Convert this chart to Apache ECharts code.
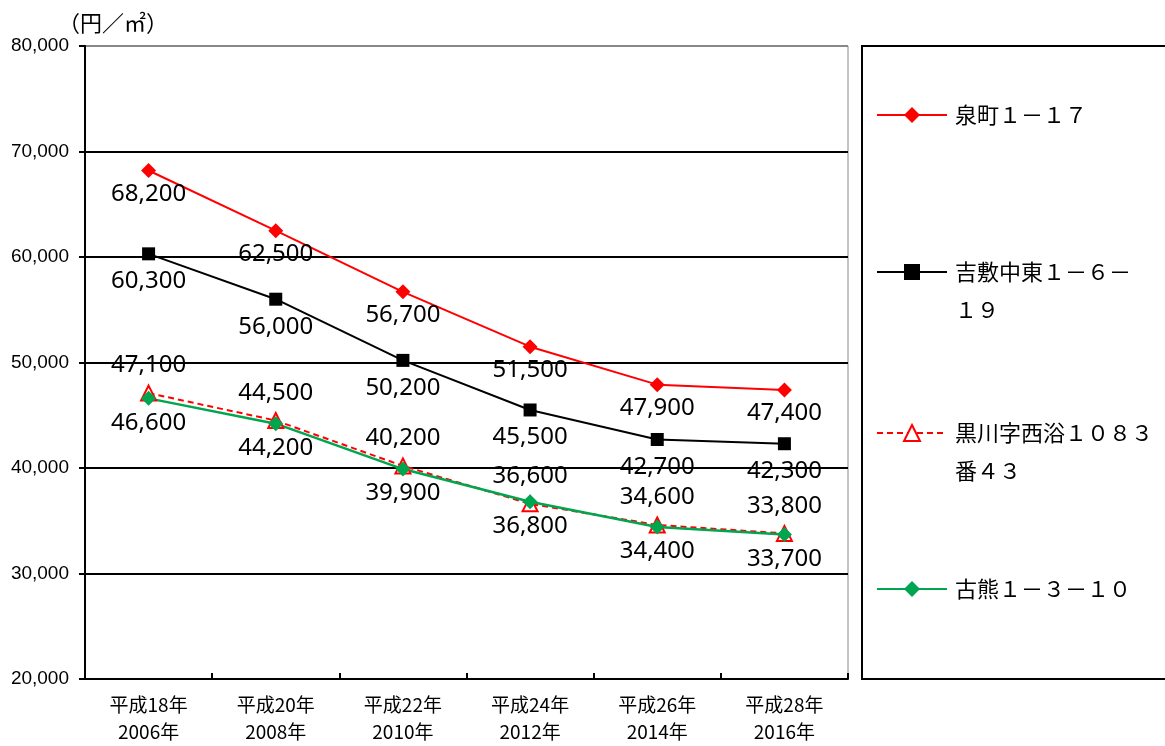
<!DOCTYPE html>
<html>
<head>
<meta charset="utf-8">
<script src="https://cdn.jsdelivr.net/npm/echarts@6/dist/echarts.min.js"></script>
<style>
  html, body { margin: 0; padding: 0; background: #fff; }
  #chart { width: 1165px; height: 746px; }
</style>
</head>
<body>
<div id="chart"></div>
<script>
// Survey years on the category axis
const categories = ['平成18年\n2006年', '平成20年\n2008年', '平成22年\n2010年', '平成24年\n2012年', '平成26年\n2014年', '平成28年\n2016年'];

// Land prices (円/㎡) per survey point
const izumimachi = [68200, 62500, 56700, 51500, 47900, 47400];
const yoshikiNakahigashi = [60300, 56000, 50200, 45500, 42700, 42300];
const kurokawa = [47100, 44500, 40200, 36600, 34600, 33800];
const furukuma = [46600, 44200, 39900, 36800, 34400, 33700];

const seriesNames = ['泉町１－１７', '吉敷中東１－６－１９', '黒川字西浴１０８３番４３', '古熊１－３－１０'];
// Legend text with line breaks where the names wrap
const legendText = {
  '泉町１－１７': '泉町１－１７',
  '吉敷中東１－６－１９': '\n吉敷中東１－６－\n１９',
  '黒川字西浴１０８３番４３': '\n黒川字西浴１０８３\n番４３',
  '古熊１－３－１０': '古熊１－３－１０'
};

const yTicks = { min: 20000, max: 80000, step: 10000 };

const JP = '"Noto Sans CJK JP", "Noto Sans", sans-serif';
const fmt = v => v.toLocaleString('en-US');

const labelStyle = (position, distance) => ({
  show: true,
  position: position,
  distance: distance,
  fontFamily: '"Noto Sans", "Liberation Sans", sans-serif',
  fontSize: 24,
  color: '#000',
  formatter: p => fmt(p.value)
});

const legendTops = [96, 215, 376, 570];
const legends = seriesNames.map((name, i) => ({
  data: [name],
  orient: 'vertical',
  left: 876,
  top: legendTops[i],
  padding: 0,
  itemWidth: 70,
  itemHeight: 20,
  selectedMode: false,
  formatter: n => legendText[n],
  textStyle: {
    fontFamily: JP,
    fontSize: 22,
    lineHeight: 38,
    color: '#000',
    padding: [0, 0, 0, 3]
  }
}));

const chart = echarts.init(document.getElementById('chart'), null, { renderer: 'canvas' });
chart.setOption({
  animation: false,
  backgroundColor: '#fff',
  grid: {
    left: 85, right: 317, top: 46, bottom: 67,
    show: true, borderColor: '#888', borderWidth: 1
  },
  legend: legends,
  graphic: [{
    type: 'rect',
    shape: { x: 862, y: 46, width: 330, height: 633 },
    style: { fill: 'none', stroke: '#000', lineWidth: 2 },
    silent: true
  }],
  xAxis: {
    type: 'category',
    data: categories,
    boundaryGap: true,
    axisLine: { lineStyle: { color: '#000', width: 2 } },
    axisTick: { show: true, inside: true, length: 6, interval: 0, lineStyle: { color: '#000', width: 2 } },
    axisLabel: {
      interval: 0,
      margin: 12,
      fontFamily: JP,
      fontSize: 19,
      lineHeight: 27,
      color: '#000'
    },
    splitLine: { show: false }
  },
  yAxis: {
    type: 'value',
    min: yTicks.min,
    max: yTicks.max,
    interval: yTicks.step,
    name: '（円／㎡）',
    nameLocation: 'end',
    nameGap: 12,
    nameTextStyle: {
      fontFamily: JP, fontSize: 22, color: '#000',
      align: 'center', padding: [0, 0, 0, 56]
    },
    axisLine: { show: true, lineStyle: { color: '#000', width: 2 } },
    axisTick: { show: true, inside: false, length: 6, lineStyle: { color: '#000', width: 2 } },
    axisLabel: {
      margin: 16,
      fontFamily: '"Liberation Sans", Arial, sans-serif',
      fontSize: 19,
      color: '#000',
      formatter: v => fmt(v)
    },
    splitLine: {
      show: true,
      lineStyle: { color: ['#000', '#000', '#000', '#000', '#000', '#000', '#888'], width: 2 }
    }
  },
  series: [
    {
      name: seriesNames[0],
      type: 'line',
      data: izumimachi,
      symbol: 'diamond',
      symbolSize: 15,
      color: '#ff0000',
      lineStyle: { color: '#ff0000', width: 2 },
      itemStyle: { color: '#ff0000' },
      label: labelStyle('bottom', 4)
    },
    {
      name: seriesNames[1],
      type: 'line',
      data: yoshikiNakahigashi,
      symbol: 'rect',
      symbolSize: 13,
      color: '#000',
      lineStyle: { color: '#000', width: 2 },
      itemStyle: { color: '#000' },
      label: labelStyle('bottom', 9)
    },
    {
      name: seriesNames[2],
      type: 'line',
      data: kurokawa,
      symbol: 'triangle',
      symbolSize: 15,
      color: '#ff0000',
      lineStyle: { color: '#ff0000', width: 2, type: [6, 4] },
      itemStyle: { color: '#fff', borderColor: '#ff0000', borderWidth: 2 },
      label: labelStyle('top', 7)
    },
    {
      name: seriesNames[3],
      type: 'line',
      data: furukuma,
      symbol: 'diamond',
      symbolSize: 15,
      color: '#00a550',
      lineStyle: { color: '#00a550', width: 2.5 },
      itemStyle: { color: '#00a550' },
      label: labelStyle('bottom', 5)
    }
  ]
});
</script>
</body>
</html>
